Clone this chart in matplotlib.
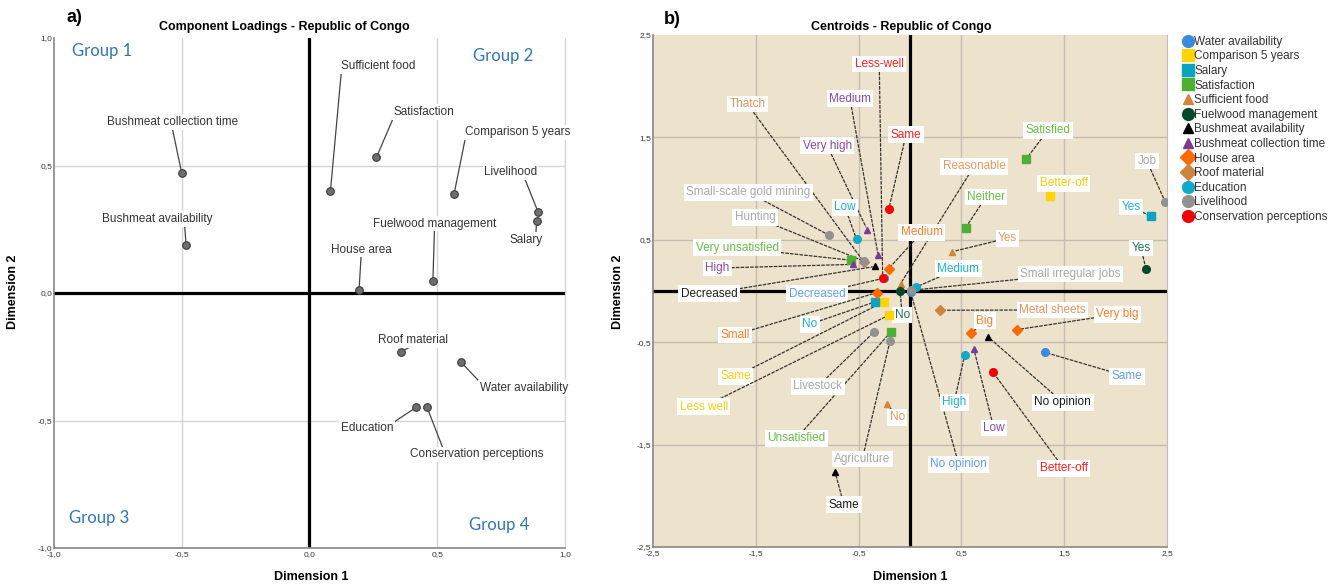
import matplotlib
matplotlib.use("Agg")
import matplotlib.pyplot as plt
from matplotlib.lines import Line2D
from matplotlib.ticker import FuncFormatter

plt.rcParams["font.family"] = ["Liberation Sans", "DejaVu Sans"]

# ------------------------------------------------------------
# DATA - panel a (component loadings)
# ------------------------------------------------------------
load_names = ["Bushmeat collection time", "Bushmeat availability", "Sufficient food",
              "Satisfaction", "Comparison 5 years", "Livelihood", "Salary",
              "Fuelwood management", "House area", "Roof material",
              "Water availability", "Education", "Conservation perceptions"]
load_x = [-0.50, -0.483, 0.082, 0.262, 0.566, 0.894, 0.889, 0.483, 0.194,
          0.357, 0.592, 0.418, 0.460]
load_y = [0.47, 0.188, 0.40, 0.532, 0.389, 0.319, 0.281, 0.047, 0.012,
          -0.231, -0.270, -0.448, -0.448]
# label anchor positions
load_lx = [-0.537, -0.597, 0.27, 0.447, 0.816, 0.788, 0.847, 0.489, 0.202,
           0.404, 0.839, 0.226, 0.653]
load_ly = [0.669, 0.291, 0.89, 0.71, 0.63, 0.473, 0.209, 0.272, 0.17,
           -0.184, -0.372, -0.531, -0.633]
# where on the label the leader line starts
load_rel = [(0.5, 0), (0.75, 0), (0, 0), (0, 0), (0, 0), (0.76, 0), (0.8, 1),
            (0.5, 0), (0.5, 0), (0.49, 0), (0, 1), (1, 1), (0.25, 1)]

groups = ["Group 1", "Group 2", "Group 3", "Group 4"]
group_x = [-0.81, 0.758, -0.824, 0.741]
group_y = [0.949, 0.93, -0.884, -0.91]

# ------------------------------------------------------------
# DATA - panel b (centroids)
# ------------------------------------------------------------
variables = ["Water availability", "Comparison 5 years", "Salary", "Satisfaction",
             "Sufficient food", "Fuelwood management", "Bushmeat availability",
             "Bushmeat collection time", "House area", "Roof material",
             "Education", "Livelihood", "Conservation perceptions"]
var_marker = ["o", "s", "s", "s", "^", "o", "^", "^", "D", "D", "o", "o", "o"]
var_color = ["#3A8BDF", "#FFD400", "#0AA3C2", "#4DAF34", "#D2853A", "#00492A",
             "#000000", "#7A3A98", "#FF6A00", "#CD843D", "#12A9C9", "#929292",
             "#F50000"]
var_text = ["#5F9FEA", "#F8CE10", "#1FB0D6", "#68BE48", "#E49A5C", "#1E6E52",
            "#1A1A1A", "#8A48A8", "#FF7F2A", "#E0955A", "#1FB0D6", "#A8A8A8",
            "#FF2020"]

cat_var = [0, 0, 0,
           1, 1, 1,
           2, 2,
           3, 3, 3, 3,
           4, 4, 4,
           5, 5,
           6, 6, 6,
           7, 7, 7, 7,
           8, 8, 8, 8,
           9, 9,
           10, 10, 10,
           11, 11, 11, 11, 11, 11,
           12, 12, 12]
cat_label = ["Decreased", "Same", "No opinion",
             "Same", "Less well", "Better-off",
             "No", "Yes",
             "Very unsatisfied", "Unsatisfied", "Neither", "Satisfied",
             "Reasonable", "No", "Yes",
             "No", "Yes",
             "Decreased", "Same", "No opinion",
             "Very high", "High", "Medium", "Low",
             "Small", "Medium", "Big", "Very big",
             "Thatch", "Metal sheets",
             "Low", "Medium", "High",
             "Small-scale gold mining", "Hunting", "Small irregular jobs",
             "Livestock", "Agriculture", "Job",
             "Less-well", "Same", "Better-off"]
cat_x = [-0.255, 1.315, 0.005,
         -0.253, -0.208, 1.364,
         -0.338, 2.344,
         -0.57, -0.185, 0.542, 1.127,
         -0.091, -0.221, 0.406,
         -0.097, 2.295,
         -0.34, -0.73, 0.76,
         -0.417, -0.55, -0.31, 0.62,
         -0.325, -0.208, 0.597, 1.042,
         -0.45, 0.289,
         -0.52, 0.056, 0.532,
         -0.787, -0.445, 0.006, -0.35, -0.195, 2.484,
         -0.266, -0.205, 0.808]
cat_y = [0.125, -0.60, -0.005,
         -0.105, -0.237, 0.929,
         -0.105, 0.731,
         0.30, -0.398, 0.62, 1.286,
         0.073, -1.104, 0.383,
         -0.003, 0.218,
         0.24, -1.763, -0.448,
         0.60, 0.26, 0.348, -0.562,
         -0.017, 0.218, -0.412, -0.377,
         0.285, -0.188,
         0.505, 0.037, -0.627,
         0.545, 0.29, 0.006, -0.40, -0.49, 0.867,
         0.13, 0.805, -0.795]
# label anchor positions
cat_lx = [-0.903, 2.11, 0.474,
          -1.695, -2.006, 1.494,
          -0.974, 2.149,
          -1.682, -1.104, 0.74, 1.341,
          0.623, -0.123, 0.948,
          -0.075, 2.247,
          -1.955, -0.643, 1.487,
          -0.805, -1.877, -0.584, 0.815,
          -1.705, 0.114, 0.727, 2.019,
          -1.581, 1.386,
          -0.633, 0.47, 0.429,
          -1.575, -1.506, 1.558, -0.896, -0.464, 2.305,
          -0.299, -0.039, 1.494]
cat_ly = [-0.026, -0.834, -1.692,
          -0.834, -1.13, 1.052,
          -0.325, 0.821,
          0.422, -1.438, 0.919, 1.568,
          1.218, -1.234, 0.516,
          -0.234, 0.419,
          -0.026, -2.088, -1.088,
          1.419, 0.224, 1.877, -1.338,
          -0.429, 0.572, -0.289, -0.227,
          1.825, -0.185,
          0.818, 0.218, -1.088,
          0.964, 0.721, 0.166, -0.932, -1.64, 1.269,
          2.218, 1.526, -1.731]


def comma(v, pos):
    return f"{v:.1f}".replace(".", ",")


def style_axes(ax, lim, ticks, grid_color):
    ax.set_xlim(-lim, lim)
    ax.set_ylim(-lim, lim)
    ax.set_xticks(ticks)
    ax.set_yticks(ticks)
    ax.xaxis.set_major_formatter(FuncFormatter(comma))
    ax.yaxis.set_major_formatter(FuncFormatter(comma))
    ax.tick_params(length=0, labelsize=6, colors="#333333")
    ax.tick_params(axis="x", pad=2)
    ax.tick_params(axis="y", pad=1)
    for v in ticks[1:-1]:
        if abs(v) > 1e-9:
            ax.axvline(v, color=grid_color, lw=1, zorder=1)
            ax.axhline(v, color=grid_color, lw=1, zorder=1)
    ax.axhline(0, color="black", lw=2.3, zorder=2)
    ax.axvline(0, color="black", lw=2.3, zorder=2)
    ax.spines["top"].set_visible(False)
    ax.spines["right"].set_color(grid_color)
    ax.spines["left"].set_color("#888888")
    ax.spines["bottom"].set_color("#888888")
    ax.spines["left"].set_linewidth(1.2)
    ax.spines["bottom"].set_linewidth(1.2)


fig = plt.figure(figsize=(13.31, 5.85), dpi=100)

# ------------------------------------------------------------
# PANEL A
# ------------------------------------------------------------
ax1 = fig.add_axes([54 / 1331, 1 - 548 / 585, 511 / 1331, 510 / 585])
style_axes(ax1, 1.0, [-1.0, -0.5, 0.0, 0.5, 1.0], "#D4D4D4")
ax1.axvline(1.0, color="#D4D4D4", lw=1, zorder=1)

ax1.scatter(load_x, load_y, s=30, c="#6E6E6E", edgecolors="#3A3A3A",
            linewidths=0.8, zorder=6)
for name, x, y, lx, ly, rel in zip(load_names, load_x, load_y, load_lx, load_ly, load_rel):
    ax1.annotate(name, xy=(x, y), xytext=(lx, ly), ha="center", va="center",
                 fontsize=8.5, color="#333333", zorder=5,
                 bbox=dict(boxstyle="square,pad=0.15", fc="white", ec="none"),
                 arrowprops=dict(arrowstyle="-", color="#444444", lw=0.9,
                                 relpos=rel, patchA=None,
                                 shrinkA=0, shrinkB=2))
for g, x, y in zip(groups, group_x, group_y):
    ax1.text(x, y, g, ha="center", va="center", fontsize=12,
             color="#2E75B6", family=["Lato", "DejaVu Sans"], zorder=5)

# ------------------------------------------------------------
# PANEL B
# ------------------------------------------------------------
ax2 = fig.add_axes([653 / 1331, 1 - 547 / 585, 514 / 1331, 512 / 585])
ax2.set_facecolor("#EDE2CC")
style_axes(ax2, 2.5, [-2.5, -1.5, -0.5, 0.5, 1.5, 2.5], "#C4BDB1")

for i, (lab, x, y, lx, ly) in enumerate(zip(cat_label, cat_x, cat_y, cat_lx, cat_ly)):
    v = cat_var[i]
    ms = 5.5 if var_marker[v] in ("o", "s") else 5
    ax2.plot(x, y, marker=var_marker[v], color=var_color[v], ms=ms,
             markeredgecolor=var_color[v], ls="none", zorder=6)
    ax2.annotate(lab, xy=(x, y), xytext=(lx, ly), ha="center", va="center",
                 fontsize=8.5, color=var_text[v], zorder=5,
                 bbox=dict(boxstyle="square,pad=0.2", fc="white", ec="none"),
                 arrowprops=dict(arrowstyle="-", color="#333333", lw=0.9,
                                 linestyle=(0, (2.2, 1.6)), shrinkA=0, shrinkB=2))

# legend
handles = []
for name, m, c in zip(variables, var_marker, var_color):
    ms = {"o": 8.5, "s": 8.5, "^": 6.5, "D": 8.5}[m]
    handles.append(Line2D([], [], marker=m, color=c, ls="none", ms=ms,
                          markeredgecolor=c, label=name))
fig.legend(handles=handles, loc="upper left",
           bbox_to_anchor=(1179 / 1331, 1 - 31 / 585), frameon=False,
           fontsize=8.5, handlelength=0.7, handletextpad=0.2,
           labelspacing=0.22, borderaxespad=0, labelcolor="#333333")

# titles, axis titles and panel tags
fig.text(284 / 1331, 1 - 27 / 585, "Component Loadings - Republic of Congo",
         ha="center", va="center", fontsize=9, fontweight="bold")
fig.text(901 / 1331, 1 - 27 / 585, "Centroids - Republic of Congo",
         ha="center", va="center", fontsize=9, fontweight="bold")
fig.text(311 / 1331, 1 - 577 / 585, "Dimension 1", ha="center", va="center",
         fontsize=9, fontweight="bold")
fig.text(910 / 1331, 1 - 577 / 585, "Dimension 1", ha="center", va="center",
         fontsize=9, fontweight="bold")
fig.text(13 / 1331, 1 - 292 / 585, "Dimension 2", ha="center", va="center",
         rotation=90, fontsize=9, fontweight="bold")
fig.text(618 / 1331, 1 - 292 / 585, "Dimension 2", ha="center", va="center",
         rotation=90, fontsize=9, fontweight="bold")
fig.text(74 / 1331, 1 - 18 / 585, "a)", ha="center", va="center",
         fontsize=13, fontweight="bold")
fig.text(672 / 1331, 1 - 19 / 585, "b)", ha="center", va="center",
         fontsize=13, fontweight="bold")

fig.savefig("out.png", dpi=100)
